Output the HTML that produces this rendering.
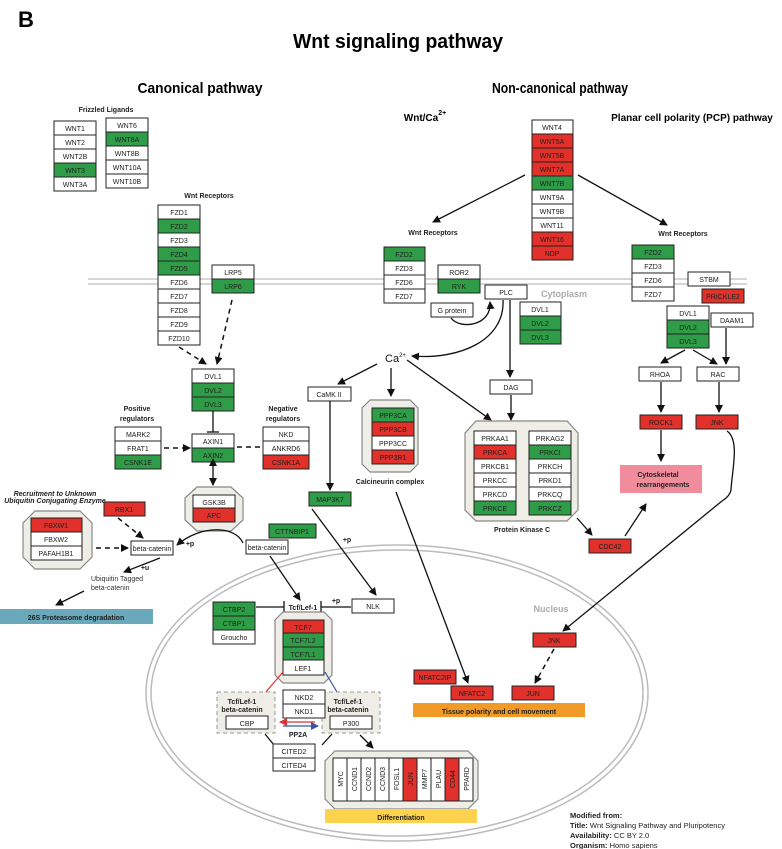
<!DOCTYPE html>
<html><head><meta charset="utf-8"><style>
html,body{margin:0;padding:0;background:#fff;}
svg{display:block;font-family:"Liberation Sans",sans-serif;}
.c{font-size:7px;text-anchor:middle;fill:#222;}
.b{font-weight:bold;}
</style></head><body>
<svg width="782" height="849" viewBox="0 0 782 849" xmlns="http://www.w3.org/2000/svg">
<defs>
<marker id="a" markerWidth="8" markerHeight="8" refX="7" refY="4" orient="auto" markerUnits="userSpaceOnUse"><path d="M0,0 L8,4 L0,8 z" fill="#111"/></marker>
<marker id="ar" markerWidth="8" markerHeight="8" refX="7" refY="4" orient="auto" markerUnits="userSpaceOnUse"><path d="M0,0 L8,4 L0,8 z" fill="#d33"/></marker>
<marker id="ab" markerWidth="8" markerHeight="8" refX="7" refY="4" orient="auto" markerUnits="userSpaceOnUse"><path d="M0,0 L8,4 L0,8 z" fill="#35a"/></marker>
<marker id="as" markerWidth="8" markerHeight="8" refX="1" refY="4" orient="auto-start-reverse" markerUnits="userSpaceOnUse"><path d="M0,0 L8,4 L0,8 z" fill="#111"/></marker>
</defs>
<style>
.w{fill:#fff;stroke:#222;stroke-width:1}
.g{fill:#2f9c47;stroke:#222;stroke-width:1}
.r{fill:#e2302b;stroke:#222;stroke-width:1}
.l{stroke:#111;stroke-width:1.3;fill:none}
.d{stroke:#111;stroke-width:1.5;fill:none;stroke-dasharray:5,4}
.oct{fill:#efeee6;stroke:#888;stroke-width:1.2}
</style>

<!-- Titles -->
<text x="18" y="27" font-size="22" class="b">B</text>
<text x="398" y="48" font-size="20" text-anchor="middle" class="b" textLength="210" lengthAdjust="spacingAndGlyphs">Wnt signaling pathway</text>
<text x="200" y="93" font-size="15" text-anchor="middle" class="b" textLength="125" lengthAdjust="spacingAndGlyphs">Canonical pathway</text>
<text x="560" y="93" font-size="15" text-anchor="middle" class="b" textLength="136" lengthAdjust="spacingAndGlyphs">Non-canonical pathway</text>
<text x="425" y="121" font-size="10" class="b" text-anchor="middle">Wnt/Ca<tspan font-size="7" dy="-6">2+</tspan></text>
<text x="692" y="121" font-size="10" class="b" text-anchor="middle">Planar cell polarity (PCP) pathway</text>

<!-- membrane -->
<line x1="88" y1="279" x2="747" y2="279" stroke="#c8c8c8" stroke-width="1.5"/>
<line x1="88" y1="284" x2="747" y2="284" stroke="#c8c8c8" stroke-width="1.5"/>
<text x="564" y="297" font-size="9" class="b" fill="#aaa" text-anchor="middle">Cytoplasm</text>

<!-- nucleus -->
<ellipse cx="397" cy="693" rx="251" ry="148" fill="none" stroke="#bbb" stroke-width="1.5"/>
<ellipse cx="397" cy="693" rx="246" ry="143" fill="none" stroke="#bbb" stroke-width="1.5"/>
<text x="551" y="612" font-size="9" class="b" fill="#aaa" text-anchor="middle">Nucleus</text>

<!-- Frizzled ligands -->
<text x="106" y="112" class="c b">Frizzled Ligands</text>
<rect class="w" x="54" y="121" width="42" height="14"/><text class="c" x="75" y="131">WNT1</text>
<rect class="w" x="54" y="135" width="42" height="14"/><text class="c" x="75" y="145">WNT2</text>
<rect class="w" x="54" y="149" width="42" height="14"/><text class="c" x="75" y="159">WNT2B</text>
<rect class="g" x="54" y="163" width="42" height="14"/><text class="c" x="75" y="173">WNT3</text>
<rect class="w" x="54" y="177" width="42" height="14"/><text class="c" x="75" y="187">WNT3A</text>
<rect class="w" x="106" y="118" width="42" height="14"/><text class="c" x="127" y="128">WNT6</text>
<rect class="g" x="106" y="132" width="42" height="14"/><text class="c" x="127" y="142">WNT8A</text>
<rect class="w" x="106" y="146" width="42" height="14"/><text class="c" x="127" y="156">WNT8B</text>
<rect class="w" x="106" y="160" width="42" height="14"/><text class="c" x="127" y="170">WNT10A</text>
<rect class="w" x="106" y="174" width="42" height="14"/><text class="c" x="127" y="184">WNT10B</text>

<!-- Canonical FZD -->
<text x="209" y="198" class="c b">Wnt Receptors</text>
<rect class="w" x="158" y="205" width="42" height="14"/><text class="c" x="179" y="215">FZD1</text>
<rect class="g" x="158" y="219" width="42" height="14"/><text class="c" x="179" y="229">FZD2</text>
<rect class="w" x="158" y="233" width="42" height="14"/><text class="c" x="179" y="243">FZD3</text>
<rect class="g" x="158" y="247" width="42" height="14"/><text class="c" x="179" y="257">FZD4</text>
<rect class="g" x="158" y="261" width="42" height="14"/><text class="c" x="179" y="271">FZD5</text>
<rect class="w" x="158" y="275" width="42" height="14"/><text class="c" x="179" y="285">FZD6</text>
<rect class="w" x="158" y="289" width="42" height="14"/><text class="c" x="179" y="299">FZD7</text>
<rect class="w" x="158" y="303" width="42" height="14"/><text class="c" x="179" y="313">FZD8</text>
<rect class="w" x="158" y="317" width="42" height="14"/><text class="c" x="179" y="327">FZD9</text>
<rect class="w" x="158" y="331" width="42" height="14"/><text class="c" x="179" y="341">FZD10</text>
<rect class="w" x="212" y="265" width="42" height="14"/><text class="c" x="233" y="275">LRP5</text>
<rect class="g" x="212" y="279" width="42" height="14"/><text class="c" x="233" y="289">LRP6</text>
<line class="d" x1="179" y1="347" x2="206" y2="364" marker-end="url(#a)"/>
<line class="d" x1="232" y1="300" x2="217" y2="364" marker-end="url(#a)"/>

<!-- DVL / AXIN -->
<rect class="w" x="192" y="369" width="42" height="14"/><text class="c" x="213" y="379">DVL1</text>
<rect class="g" x="192" y="383" width="42" height="14"/><text class="c" x="213" y="393">DVL2</text>
<rect class="g" x="192" y="397" width="42" height="14"/><text class="c" x="213" y="407">DVL3</text>
<line class="l" x1="213" y1="411" x2="213" y2="432"/><line class="l" x1="207" y1="432" x2="219" y2="432"/>
<rect class="w" x="192" y="434" width="42" height="14"/><text class="c" x="213" y="444">AXIN1</text>
<rect class="g" x="192" y="448" width="42" height="14"/><text class="c" x="213" y="458">AXIN2</text>
<text x="137" y="411" class="c b" font-size="8">Positive</text><text x="137" y="421" class="c b" font-size="8">regulators</text>
<rect class="w" x="115" y="427" width="46" height="14"/><text class="c" x="138" y="437">MARK2</text>
<rect class="w" x="115" y="441" width="46" height="14"/><text class="c" x="138" y="451">FRAT1</text>
<rect class="g" x="115" y="455" width="46" height="14"/><text class="c" x="138" y="465">CSNK1E</text>
<text x="283" y="411" class="c b" font-size="8">Negative</text><text x="283" y="421" class="c b" font-size="8">regulators</text>
<rect class="w" x="263" y="427" width="46" height="14"/><text class="c" x="286" y="437">NKD</text>
<rect class="w" x="263" y="441" width="46" height="14"/><text class="c" x="286" y="451">ANKRD6</text>
<rect class="r" x="263" y="455" width="46" height="14"/><text class="c" x="286" y="465">CSNK1A</text>
<line class="d" x1="164" y1="448" x2="190" y2="448" marker-end="url(#a)"/>
<line class="d" x1="237" y1="447" x2="262" y2="447"/>
<line class="l" x1="213" y1="465" x2="213" y2="485" marker-start="url(#as)" marker-end="url(#a)"/>

<!-- GSK3B octagon -->
<polygon class="oct" points="197,487 231,487 243,498 243,520 231,531 197,531 185,520 185,498"/>
<rect class="w" x="193" y="495" width="42" height="13"/><text class="c" x="214" y="505">GSK3B</text>
<rect class="r" x="193" y="508" width="42" height="14"/><text class="c" x="214" y="518">APC</text>

<!-- Ubiquitin -->
<text x="55" y="496" class="c b" font-size="6" font-style="italic">Recruitment to Unknown</text>
<text x="55" y="503" class="c b" font-size="6" font-style="italic">Ubiquitin Conjugating Enzyme</text>
<rect class="r" x="104" y="502" width="41" height="14"/><text class="c" x="124" y="512">RBX1</text>
<polygon class="oct" points="35,511 80,511 92,523 92,557 80,569 35,569 23,557 23,523"/>
<rect class="r" x="31" y="518" width="51" height="14"/><text class="c" x="56" y="528">FBXW1</text>
<rect class="w" x="31" y="532" width="51" height="14"/><text class="c" x="56" y="542">FBXW2</text>
<rect class="w" x="31" y="546" width="51" height="14"/><text class="c" x="56" y="556">PAFAH1B1</text>
<line class="d" x1="96" y1="548" x2="128" y2="548" marker-end="url(#a)"/>
<line class="d" x1="118" y1="518" x2="143" y2="538" marker-end="url(#a)"/>
<rect class="w" x="131" y="541" width="42" height="14"/><text class="c" x="152" y="551">beta-catenin</text>
<path class="l" d="M243,543 C235,525 200,525 177,545" marker-end="url(#a)"/>
<text x="190" y="546" class="c b" font-size="8">+p</text>
<rect class="w" x="246" y="540" width="42" height="14"/><text class="c" x="267" y="550">beta-catenin</text>
<rect class="g" x="269" y="524" width="47" height="14"/><text class="c" x="292" y="534">CTTNBIP1</text>
<line class="l" x1="160" y1="558" x2="124" y2="572" marker-end="url(#a)"/>
<text x="145" y="570" class="c b" font-size="8">+u</text>
<text x="91" y="581" font-size="7" fill="#333">Ubiquitin Tagged</text>
<text x="91" y="590" font-size="7" fill="#333">beta-catenin</text>
<line class="l" x1="84" y1="591" x2="56" y2="605" marker-end="url(#a)"/>
<rect x="0" y="609" width="153" height="15" fill="#6aa8bb"/>
<text x="76" y="620" class="c b" font-size="8">26S Proteasome degradation</text>

<!-- CaMK -->
<text x="385" y="362" font-size="11" fill="#111">Ca<tspan font-size="6" dy="-5">2+</tspan></text>
<line class="l" x1="377" y1="364" x2="338" y2="384" marker-end="url(#a)"/>
<rect class="w" x="308" y="387" width="43" height="14"/><text class="c" x="329" y="397">CaMK II</text>
<line class="l" x1="330" y1="401" x2="330" y2="490" marker-end="url(#a)"/>
<rect class="g" x="309" y="492" width="42" height="14"/><text class="c" x="330" y="502">MAP3K7</text>
<line class="l" x1="312" y1="509" x2="376" y2="595" marker-end="url(#a)"/>
<text x="347" y="542" class="c b" font-size="8">+p</text>
<rect class="w" x="352" y="599" width="42" height="14"/><text class="c" x="373" y="609">NLK</text>

<!-- Calcineurin -->
<line class="l" x1="391" y1="368" x2="391" y2="396" marker-end="url(#a)"/>
<polygon class="oct" points="370,400 410,400 418,408 418,464 410,472 370,472 362,464 362,408"/>
<rect class="g" x="372" y="408" width="42" height="14"/><text class="c" x="393" y="418">PPP3CA</text>
<rect class="r" x="372" y="422" width="42" height="14"/><text class="c" x="393" y="432">PPP3CB</text>
<rect class="w" x="372" y="436" width="42" height="14"/><text class="c" x="393" y="446">PPP3CC</text>
<rect class="r" x="372" y="450" width="42" height="14"/><text class="c" x="393" y="460">PPP3R1</text>
<text x="390" y="484" class="c b" font-size="8">Calcineurin complex</text>
<line class="l" x1="396" y1="492" x2="468" y2="683" marker-end="url(#a)"/>

<!-- Non-canonical WNT -->
<rect class="w" x="532" y="120" width="41" height="14"/><text class="c" x="552" y="130">WNT4</text>
<rect class="r" x="532" y="134" width="41" height="14"/><text class="c" x="552" y="144">WNT5A</text>
<rect class="r" x="532" y="148" width="41" height="14"/><text class="c" x="552" y="158">WNT5B</text>
<rect class="r" x="532" y="162" width="41" height="14"/><text class="c" x="552" y="172">WNT7A</text>
<rect class="g" x="532" y="176" width="41" height="14"/><text class="c" x="552" y="186">WNT7B</text>
<rect class="w" x="532" y="190" width="41" height="14"/><text class="c" x="552" y="200">WNT9A</text>
<rect class="w" x="532" y="204" width="41" height="14"/><text class="c" x="552" y="214">WNT9B</text>
<rect class="w" x="532" y="218" width="41" height="14"/><text class="c" x="552" y="228">WNT11</text>
<rect class="r" x="532" y="232" width="41" height="14"/><text class="c" x="552" y="242">WNT16</text>
<rect class="r" x="532" y="246" width="41" height="14"/><text class="c" x="552" y="256">NDP</text>
<line class="l" x1="525" y1="175" x2="433" y2="222" marker-end="url(#a)"/>
<line class="l" x1="578" y1="175" x2="667" y2="225" marker-end="url(#a)"/>

<!-- Wnt/Ca receptors -->
<text x="433" y="235" class="c b">Wnt Receptors</text>
<rect class="g" x="384" y="247" width="41" height="14"/><text class="c" x="404" y="257">FZD2</text>
<rect class="w" x="384" y="261" width="41" height="14"/><text class="c" x="404" y="271">FZD3</text>
<rect class="w" x="384" y="275" width="41" height="14"/><text class="c" x="404" y="285">FZD6</text>
<rect class="w" x="384" y="289" width="41" height="14"/><text class="c" x="404" y="299">FZD7</text>
<rect class="w" x="438" y="265" width="42" height="14"/><text class="c" x="459" y="275">ROR2</text>
<rect class="g" x="438" y="279" width="42" height="14"/><text class="c" x="459" y="289">RYK</text>
<rect class="w" x="485" y="285" width="42" height="14"/><text class="c" x="506" y="295">PLC</text>
<rect class="w" x="431" y="303" width="42" height="14"/><text class="c" x="452" y="313">G protein</text>
<path class="l" d="M451,318 C460,330 492,326 490,302" marker-end="url(#a)"/>
<path class="l" d="M503,300 C505,340 460,360 412,356" marker-end="url(#a)"/>
<rect class="w" x="520" y="302" width="41" height="14"/><text class="c" x="540" y="312">DVL1</text>
<rect class="g" x="520" y="316" width="41" height="14"/><text class="c" x="540" y="326">DVL2</text>
<rect class="g" x="520" y="330" width="41" height="14"/><text class="c" x="540" y="340">DVL3</text>
<line class="l" x1="510" y1="300" x2="510" y2="377" marker-end="url(#a)"/>
<rect class="w" x="490" y="380" width="42" height="14"/><text class="c" x="511" y="390">DAG</text>
<line class="l" x1="511" y1="395" x2="511" y2="420" marker-end="url(#a)"/>
<line class="l" x1="407" y1="360" x2="491" y2="420" marker-end="url(#a)"/>

<!-- PKC -->
<polygon class="oct" points="476,421 567,421 578,433 578,510 567,521 476,521 465,510 465,433"/>
<rect class="w" x="474" y="431" width="42" height="14"/><text class="c" x="495" y="441">PRKAA1</text>
<rect class="r" x="474" y="445" width="42" height="14"/><text class="c" x="495" y="455">PRKCA</text>
<rect class="w" x="474" y="459" width="42" height="14"/><text class="c" x="495" y="469">PRKCB1</text>
<rect class="w" x="474" y="473" width="42" height="14"/><text class="c" x="495" y="483">PRKCC</text>
<rect class="w" x="474" y="487" width="42" height="14"/><text class="c" x="495" y="497">PRKCD</text>
<rect class="g" x="474" y="501" width="42" height="14"/><text class="c" x="495" y="511">PRKCE</text>
<rect class="w" x="529" y="431" width="42" height="14"/><text class="c" x="550" y="441">PRKAG2</text>
<rect class="g" x="529" y="445" width="42" height="14"/><text class="c" x="550" y="455">PRKCI</text>
<rect class="w" x="529" y="459" width="42" height="14"/><text class="c" x="550" y="469">PRKCH</text>
<rect class="w" x="529" y="473" width="42" height="14"/><text class="c" x="550" y="483">PRKD1</text>
<rect class="w" x="529" y="487" width="42" height="14"/><text class="c" x="550" y="497">PRKCQ</text>
<rect class="g" x="529" y="501" width="42" height="14"/><text class="c" x="550" y="511">PRKCZ</text>
<text x="522" y="532" class="c b" font-size="8">Protein Kinase C</text>
<line class="l" x1="577" y1="518" x2="592" y2="535" marker-end="url(#a)"/>
<rect class="r" x="589" y="539" width="42" height="14"/><text class="c" x="610" y="549">CDC42</text>
<line class="l" x1="625" y1="536" x2="646" y2="504" marker-end="url(#a)"/>
<rect x="620" y="465" width="82" height="28" fill="#f08c9c"/>
<text x="658" y="477" class="c b" font-size="8">Cytoskeletal</text>
<text x="663" y="487" class="c b" font-size="8">rearrangements</text>

<!-- PCP -->
<text x="683" y="236" class="c b">Wnt Receptors</text>
<rect class="g" x="632" y="245" width="42" height="14"/><text class="c" x="653" y="255">FZD2</text>
<rect class="w" x="632" y="259" width="42" height="14"/><text class="c" x="653" y="269">FZD3</text>
<rect class="w" x="632" y="273" width="42" height="14"/><text class="c" x="653" y="283">FZD6</text>
<rect class="w" x="632" y="287" width="42" height="14"/><text class="c" x="653" y="297">FZD7</text>
<rect class="w" x="688" y="272" width="42" height="14"/><text class="c" x="709" y="282">STBM</text>
<rect class="r" x="702" y="289" width="42" height="14"/><text class="c" x="723" y="299">PRICKLE2</text>
<rect class="w" x="667" y="306" width="42" height="14"/><text class="c" x="688" y="316">DVL1</text>
<rect class="g" x="667" y="320" width="42" height="14"/><text class="c" x="688" y="330">DVL2</text>
<rect class="g" x="667" y="334" width="42" height="14"/><text class="c" x="688" y="344">DVL3</text>
<rect class="w" x="711" y="313" width="42" height="14"/><text class="c" x="732" y="323">DAAM1</text>
<line class="l" x1="685" y1="350" x2="661" y2="363" marker-end="url(#a)"/>
<line class="l" x1="693" y1="350" x2="717" y2="364" marker-end="url(#a)"/>
<line class="l" x1="726" y1="328" x2="726" y2="364" marker-end="url(#a)"/>
<rect class="w" x="639" y="367" width="42" height="14"/><text class="c" x="660" y="377">RHOA</text>
<rect class="w" x="697" y="367" width="42" height="14"/><text class="c" x="718" y="377">RAC</text>
<line class="l" x1="661" y1="382" x2="661" y2="412" marker-end="url(#a)"/>
<line class="l" x1="719" y1="382" x2="719" y2="412" marker-end="url(#a)"/>
<rect class="r" x="640" y="415" width="42" height="14"/><text class="c" x="661" y="425">ROCK1</text>
<rect class="r" x="696" y="415" width="42" height="14"/><text class="c" x="717" y="425">JNK</text>
<line class="l" x1="661" y1="430" x2="661" y2="461" marker-end="url(#a)"/>
<path class="l" d="M727,431 C740,440 732,470 731,490 Q730,496 722,501 L563,631" marker-end="url(#a)"/>

<!-- nucleus JNK -->
<rect class="r" x="533" y="633" width="43" height="14"/><text class="c" x="554" y="643">JNK</text>
<line class="d" x1="554" y1="649" x2="535" y2="683" marker-end="url(#a)"/>
<rect class="r" x="414" y="670" width="42" height="14"/><text class="c" x="435" y="680">NFATC2IP</text>
<rect class="r" x="451" y="686" width="42" height="14"/><text class="c" x="472" y="696">NFATC2</text>
<rect class="r" x="512" y="686" width="42" height="14"/><text class="c" x="533" y="696">JUN</text>
<rect x="413" y="703" width="172" height="14" fill="#f29a28"/>
<text x="499" y="714" class="c b" font-size="8">Tissue polarity and cell movement</text>

<!-- Tcf/Lef -->
<line class="l" x1="270" y1="556" x2="300" y2="600" marker-end="url(#a)"/>
<text x="303" y="610" class="c b">Tcf/Lef-1</text>
<line class="l" x1="256" y1="607" x2="284" y2="607"/><line class="l" x1="284" y1="601" x2="284" y2="613"/>
<line class="l" x1="351" y1="607" x2="321" y2="607"/><line class="l" x1="321" y1="601" x2="321" y2="613"/>
<text x="336" y="603" class="c b" font-size="8">+p</text>
<rect class="g" x="213" y="602" width="42" height="14"/><text class="c" x="234" y="612">CTBP2</text>
<rect class="g" x="213" y="616" width="42" height="14"/><text class="c" x="234" y="626">CTBP1</text>
<rect class="w" x="213" y="630" width="42" height="14"/><text class="c" x="234" y="640">Groucho</text>
<polygon class="oct" points="283,612 324,612 332,620 332,675 324,683 283,683 275,675 275,620"/>
<rect class="r" x="283" y="620" width="41" height="13"/><text class="c" x="303" y="630">TCF7</text>
<rect class="g" x="283" y="633" width="41" height="14"/><text class="c" x="303" y="643">TCF7L2</text>
<rect class="g" x="283" y="647" width="41" height="13"/><text class="c" x="303" y="657">TCF7L1</text>
<rect class="w" x="283" y="660" width="41" height="15"/><text class="c" x="303" y="671">LEF1</text>
<line x1="283" y1="672" x2="265" y2="693" stroke="#d33" stroke-width="1.2"/>
<line x1="325" y1="672" x2="337" y2="692" stroke="#35a" stroke-width="1.2"/>
<rect x="217" y="692" width="58" height="41" fill="#efeee6" stroke="#999" stroke-dasharray="4,3"/>
<text x="242" y="704" class="c b" font-size="6.5">Tcf/Lef-1</text><text x="242" y="712" class="c b" font-size="6.5">beta-catenin</text>
<rect class="w" x="226" y="716" width="42" height="13"/><text class="c" x="247" y="726">CBP</text>
<rect x="322" y="692" width="58" height="41" fill="#efeee6" stroke="#999" stroke-dasharray="4,3"/>
<text x="348" y="704" class="c b" font-size="6.5">Tcf/Lef-1</text><text x="348" y="712" class="c b" font-size="6.5">beta-catenin</text>
<rect class="w" x="330" y="716" width="42" height="13"/><text class="c" x="351" y="726">P300</text>
<rect class="w" x="283" y="690" width="42" height="14"/><text class="c" x="304" y="700">NKD2</text>
<rect class="w" x="283" y="704" width="42" height="14"/><text class="c" x="304" y="714">NKD1</text>
<line x1="315" y1="722" x2="280" y2="722" stroke="#d33" stroke-width="1.3" marker-end="url(#ar)"/>
<line x1="283" y1="726" x2="318" y2="726" stroke="#35a" stroke-width="1.3" marker-end="url(#ab)"/>
<text x="298" y="737" class="c b" fill="#35a">PP2A</text>
<line class="l" x1="265" y1="734" x2="274" y2="745"/>
<line class="l" x1="332" y1="734" x2="322" y2="745"/>
<rect class="w" x="273" y="744" width="42" height="14"/><text class="c" x="294" y="754">CITED2</text>
<rect class="w" x="273" y="758" width="42" height="13"/><text class="c" x="294" y="768">CITED4</text>
<line class="l" x1="360" y1="735" x2="373" y2="748" marker-end="url(#a)"/>

<!-- Differentiation -->
<polygon class="oct" points="335,751 468,751 478,761 478,799 468,809 335,809 325,799 325,761"/>
<g font-size="7" fill="#222" text-anchor="middle">
<rect class="w" x="333" y="758" width="14" height="43"/><text transform="translate(343,779) rotate(-90)">MYC</text>
<rect class="w" x="347" y="758" width="14" height="43"/><text transform="translate(357,779) rotate(-90)">CCND1</text>
<rect class="w" x="361" y="758" width="14" height="43"/><text transform="translate(371,779) rotate(-90)">CCND2</text>
<rect class="w" x="375" y="758" width="14" height="43"/><text transform="translate(385,779) rotate(-90)">CCND3</text>
<rect class="w" x="389" y="758" width="14" height="43"/><text transform="translate(399,779) rotate(-90)">FOSL1</text>
<rect class="r" x="403" y="758" width="14" height="43"/><text transform="translate(413,779) rotate(-90)">JUN</text>
<rect class="w" x="417" y="758" width="14" height="43"/><text transform="translate(427,779) rotate(-90)">MMP7</text>
<rect class="w" x="431" y="758" width="14" height="43"/><text transform="translate(441,779) rotate(-90)">PLAU</text>
<rect class="r" x="445" y="758" width="14" height="43"/><text transform="translate(455,779) rotate(-90)">CD44</text>
<rect class="w" x="459" y="758" width="14" height="43"/><text transform="translate(469,779) rotate(-90)">PPARD</text>
</g>
<rect x="325" y="809" width="152" height="14" fill="#fdd24d"/>
<text x="401" y="820" class="c b" font-size="8">Differentiation</text>

<!-- footer -->
<g font-size="7.5" fill="#222">
<text x="570" y="818"><tspan font-weight="bold">Modified from:</tspan></text>
<text x="570" y="828"><tspan font-weight="bold">Title:</tspan> Wnt Signaling Pathway and Pluripotency</text>
<text x="570" y="838"><tspan font-weight="bold">Availability:</tspan> CC BY 2.0</text>
<text x="570" y="848"><tspan font-weight="bold">Organism:</tspan> Homo sapiens</text>
</g>
</svg>
</body></html>
